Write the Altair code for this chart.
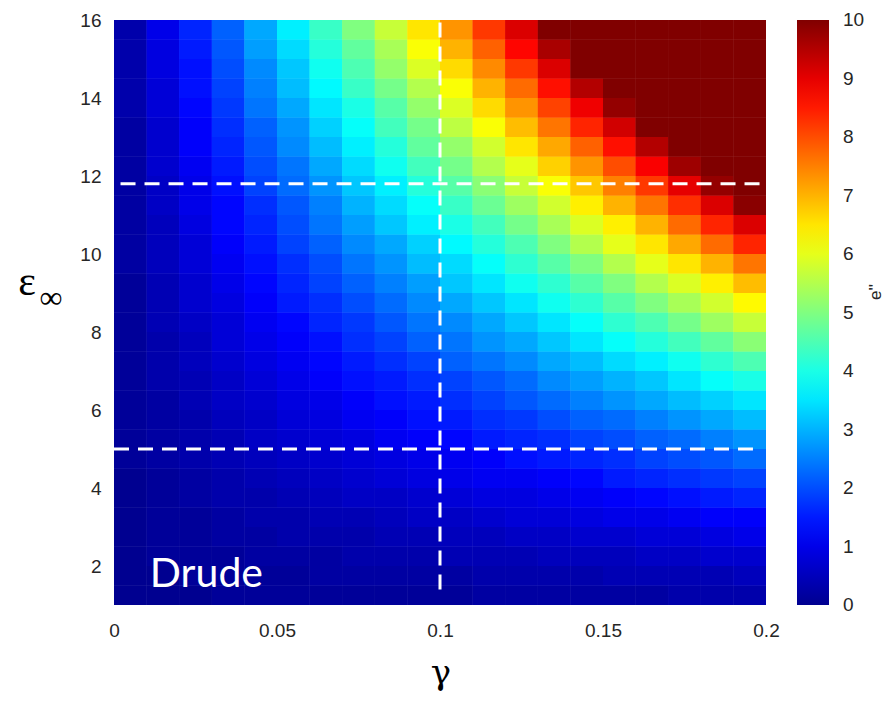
import altair as alt
import pandas as pd

# gamma cell centres (x) and eps_inf cell centres (y)
gamma = [0.005, 0.015, 0.025, 0.035, 0.045, 0.055, 0.065, 0.075, 0.085, 0.095,
         0.105, 0.115, 0.125, 0.135, 0.145, 0.155, 0.165, 0.175, 0.185, 0.195]
eps_inf = [1.25, 1.75, 2.25, 2.75, 3.25, 3.75, 4.25, 4.75, 5.25, 5.75,
           6.25, 6.75, 7.25, 7.75, 8.25, 8.75, 9.25, 9.75, 10.25, 10.75,
           11.25, 11.75, 12.25, 12.75, 13.25, 13.75, 14.25, 14.75, 15.25, 15.75]

# e'', one row per eps_inf (bottom to top), one value per gamma
eps2 = [
    [0.0, 0.0, 0.0, 0.1, 0.1, 0.1, 0.1, 0.1, 0.1, 0.1, 0.1, 0.2, 0.2, 0.2, 0.2, 0.2, 0.2, 0.3, 0.3, 0.3],
    [0.0, 0.0, 0.1, 0.1, 0.1, 0.1, 0.2, 0.2, 0.2, 0.2, 0.2, 0.3, 0.3, 0.3, 0.3, 0.4, 0.4, 0.4, 0.4, 0.5],
    [0.0, 0.1, 0.1, 0.1, 0.2, 0.2, 0.2, 0.3, 0.3, 0.3, 0.4, 0.4, 0.4, 0.5, 0.5, 0.5, 0.6, 0.6, 0.7, 0.7],
    [0.0, 0.1, 0.1, 0.2, 0.2, 0.3, 0.3, 0.3, 0.4, 0.4, 0.5, 0.5, 0.6, 0.6, 0.7, 0.7, 0.8, 0.8, 0.9, 1.0],
    [0.0, 0.1, 0.1, 0.2, 0.3, 0.3, 0.4, 0.4, 0.5, 0.6, 0.6, 0.7, 0.8, 0.8, 0.9, 1.0, 1.0, 1.1, 1.2, 1.2],
    [0.0, 0.1, 0.2, 0.3, 0.3, 0.4, 0.5, 0.6, 0.6, 0.7, 0.8, 0.9, 0.9, 1.0, 1.1, 1.2, 1.3, 1.4, 1.5, 1.6],
    [0.0, 0.1, 0.2, 0.3, 0.4, 0.5, 0.6, 0.7, 0.8, 0.9, 1.0, 1.1, 1.1, 1.2, 1.3, 1.5, 1.6, 1.7, 1.8, 1.9],
    [0.1, 0.2, 0.3, 0.4, 0.5, 0.6, 0.7, 0.8, 0.9, 1.0, 1.1, 1.2, 1.4, 1.5, 1.6, 1.7, 1.9, 2.0, 2.1, 2.3],
    [0.1, 0.2, 0.3, 0.4, 0.6, 0.7, 0.8, 0.9, 1.1, 1.2, 1.3, 1.5, 1.6, 1.7, 1.9, 2.0, 2.2, 2.3, 2.5, 2.7],
    [0.1, 0.2, 0.3, 0.5, 0.6, 0.8, 0.9, 1.1, 1.2, 1.4, 1.5, 1.7, 1.8, 2.0, 2.2, 2.3, 2.5, 2.7, 2.9, 3.1],
    [0.1, 0.2, 0.4, 0.6, 0.7, 0.9, 1.0, 1.2, 1.4, 1.5, 1.7, 1.9, 2.1, 2.3, 2.5, 2.7, 2.9, 3.1, 3.3, 3.5],
    [0.1, 0.3, 0.4, 0.6, 0.8, 1.0, 1.2, 1.4, 1.5, 1.7, 1.9, 2.1, 2.3, 2.6, 2.8, 3.0, 3.2, 3.5, 3.8, 4.0],
    [0.1, 0.3, 0.5, 0.7, 0.9, 1.1, 1.3, 1.5, 1.7, 1.9, 2.2, 2.4, 2.6, 2.9, 3.1, 3.4, 3.6, 3.9, 4.2, 4.5],
    [0.1, 0.3, 0.5, 0.8, 1.0, 1.2, 1.4, 1.7, 1.9, 2.2, 2.4, 2.7, 2.9, 3.2, 3.5, 3.8, 4.1, 4.4, 4.7, 5.1],
    [0.1, 0.4, 0.6, 0.8, 1.1, 1.3, 1.6, 1.8, 2.1, 2.4, 2.6, 2.9, 3.2, 3.5, 3.8, 4.2, 4.5, 4.9, 5.3, 5.7],
    [0.1, 0.4, 0.7, 0.9, 1.2, 1.5, 1.7, 2.0, 2.3, 2.6, 2.9, 3.2, 3.5, 3.9, 4.2, 4.6, 5.0, 5.4, 5.8, 6.3],
    [0.1, 0.4, 0.7, 1.0, 1.3, 1.6, 1.9, 2.2, 2.5, 2.8, 3.2, 3.5, 3.9, 4.2, 4.6, 5.0, 5.5, 5.9, 6.4, 6.9],
    [0.2, 0.5, 0.8, 1.1, 1.4, 1.7, 2.0, 2.4, 2.7, 3.1, 3.4, 3.8, 4.2, 4.6, 5.0, 5.5, 6.0, 6.5, 7.0, 7.6],
    [0.2, 0.5, 0.8, 1.2, 1.5, 1.9, 2.2, 2.6, 2.9, 3.3, 3.7, 4.1, 4.5, 5.0, 5.5, 6.0, 6.5, 7.1, 7.7, 8.4],
    [0.2, 0.5, 0.9, 1.3, 1.6, 2.0, 2.4, 2.8, 3.2, 3.6, 4.0, 4.4, 4.9, 5.4, 5.9, 6.4, 7.0, 7.7, 8.4, 9.1],
    [0.2, 0.6, 1.0, 1.3, 1.7, 2.1, 2.5, 3.0, 3.4, 3.8, 4.3, 4.8, 5.3, 5.8, 6.4, 7.0, 7.6, 8.3, 9.1, 9.9],
    [0.2, 0.6, 1.0, 1.4, 1.9, 2.3, 2.7, 3.2, 3.6, 4.1, 4.6, 5.1, 5.7, 6.2, 6.8, 7.5, 8.2, 9.0, 9.8, 10.0],
    [0.2, 0.7, 1.1, 1.5, 2.0, 2.4, 2.9, 3.4, 3.9, 4.4, 4.9, 5.5, 6.0, 6.7, 7.3, 8.0, 8.8, 9.7, 10.0, 10.0],
    [0.2, 0.7, 1.2, 1.6, 2.1, 2.6, 3.1, 3.6, 4.1, 4.7, 5.2, 5.8, 6.5, 7.1, 7.8, 8.6, 9.5, 10.0, 10.0, 10.0],
    [0.2, 0.7, 1.2, 1.7, 2.2, 2.7, 3.3, 3.8, 4.4, 4.9, 5.6, 6.2, 6.9, 7.6, 8.4, 9.2, 10.0, 10.0, 10.0, 10.0],
    [0.3, 0.8, 1.3, 1.8, 2.4, 2.9, 3.5, 4.0, 4.6, 5.2, 5.9, 6.6, 7.3, 8.1, 8.9, 9.8, 10.0, 10.0, 10.0, 10.0],
    [0.3, 0.8, 1.4, 1.9, 2.5, 3.1, 3.7, 4.3, 4.9, 5.5, 6.2, 7.0, 7.7, 8.6, 9.5, 10.0, 10.0, 10.0, 10.0, 10.0],
    [0.3, 0.9, 1.4, 2.0, 2.6, 3.2, 3.9, 4.5, 5.2, 5.9, 6.6, 7.4, 8.2, 9.1, 10.0, 10.0, 10.0, 10.0, 10.0, 10.0],
    [0.3, 0.9, 1.5, 2.1, 2.8, 3.4, 4.1, 4.7, 5.4, 6.2, 7.0, 7.8, 8.7, 9.6, 10.0, 10.0, 10.0, 10.0, 10.0, 10.0],
    [0.3, 1.0, 1.6, 2.2, 2.9, 3.6, 4.3, 5.0, 5.7, 6.5, 7.3, 8.2, 9.1, 10.0, 10.0, 10.0, 10.0, 10.0, 10.0, 10.0],
]

gamma_step = 0.01
eps_step = 0.5

x_ticks = [0, 0.05, 0.1, 0.15, 0.2]
y_ticks = [2, 4, 6, 8, 10, 12, 14, 16]
cbar_ticks = [0, 1, 2, 3, 4, 5, 6, 7, 8, 9, 10]

# dashed guide lines
vline_gamma = [0.1]
vline_e0 = [1.4]
vline_e1 = [16.0]
hline_eps = [11.8, 5.0]
hline_g0 = [0.002, 0.0]
hline_g1 = [0.2, 0.196]

# jet colormap
jet_stops = [0, 1.25, 3.75, 6.25, 8.75, 10]
jet_colors = ["#000090", "#0000ff", "#00ffff", "#ffff00", "#ff0000", "#800000"]

# layout (pixels)
W, H = 652, 585
CB_X, CB_W = 683, 32

rows = []
for i, e in enumerate(eps_inf):
    for j, g in enumerate(gamma):
        rows.append({
            "g0": g - gamma_step / 2, "g1": g + gamma_step / 2,
            "e0": e - eps_step / 2, "e1": e + eps_step / 2,
            "v": eps2[i][j],
        })
df = pd.DataFrame(rows)

tick_font = "Liberation Sans, Arial"
tick_color = "#262626"

cscale = alt.Scale(domain=jet_stops, range=jet_colors, interpolate="rgb", clamp=True)
xscale = alt.Scale(domain=[0, 0.2], nice=False, zero=False)
yscale = alt.Scale(domain=[1, 16], nice=False, zero=False)

x_enc = alt.X("g0:Q", scale=xscale,
              axis=alt.Axis(values=x_ticks, format=".2~f", title=None, grid=False,
                            domain=False, ticks=False, tickSize=0, labelFlush=False,
                            labelFontSize=19, labelFont=tick_font, labelColor=tick_color,
                            labelPadding=16))
y_enc = alt.Y("e0:Q", scale=yscale,
              axis=alt.Axis(values=y_ticks, format="d", title=None, grid=False,
                            domain=False, ticks=False, tickSize=0, labelFlush=False,
                            labelFontSize=19, labelFont=tick_font, labelColor=tick_color,
                            labelPadding=13))

heat = alt.Chart(df).mark_rect().encode(
    x=x_enc, x2="g1:Q", y=y_enc, y2="e1:Q",
    fill=alt.Fill("v:Q", scale=cscale,
                  legend=alt.Legend(type="gradient", orient="none", legendX=CB_X, legendY=0,
                                    direction="vertical", gradientLength=H,
                                    gradientThickness=CB_W, title=None, labelOpacity=0,
                                    values=cbar_ticks, gradientStrokeWidth=0)),
)
# second identical pass hides anti-aliasing seams between cells
heat2 = alt.Chart(df).mark_rect().encode(
    x=alt.X("g0:Q", scale=xscale), x2="g1:Q",
    y=alt.Y("e0:Q", scale=yscale), y2="e1:Q",
    fill=alt.Fill("v:Q", scale=cscale, legend=None),
)

# colourbar tick labels
cb_df = pd.DataFrame({"v": cbar_ticks})
cb_labels = alt.Chart(cb_df).transform_calculate(
    py=f"(10 - datum.v) / 10 * {H}", lab="format(datum.v, 'd')"
).mark_text(font=tick_font, fontSize=19, color=tick_color, align="left",
            baseline="middle").encode(
    x=alt.value(CB_X + CB_W + 14), y=alt.Y("py:Q", scale=None), text="lab:N")

vdf = pd.DataFrame({"g": vline_gamma, "e0": vline_e0, "e1": vline_e1})
hdf = pd.DataFrame({"e": hline_eps, "g0": hline_g0, "g1": hline_g1})

dash = dict(color="white", strokeWidth=3, strokeDash=[15, 9])
vrule = alt.Chart(vdf).mark_rule(**dash).encode(
    x=alt.X("g:Q", scale=xscale), y=alt.Y("e0:Q", scale=yscale), y2="e1:Q")
hrule = alt.Chart(hdf).mark_rule(**dash).encode(
    y=alt.Y("e:Q", scale=yscale), x=alt.X("g0:Q", scale=xscale), x2="g1:Q")

drude_df = pd.DataFrame({"g": [0.011], "e": [1.45], "t": ["Drude"]})
drude = alt.Chart(drude_df).mark_text(
    color="white", font="Lato", fontSize=41, align="left", baseline="alphabetic"
).encode(x=alt.X("g:Q", scale=xscale), y=alt.Y("e:Q", scale=yscale), text="t:N")

one = pd.DataFrame({"a": [0]})
serif = "DejaVu Serif, Liberation Serif, serif"
t_gamma = alt.Chart(one).mark_text(text="γ", font=serif, fontSize=34, color="black",
                                   align="center", baseline="alphabetic").encode(
    x=alt.value(327), y=alt.value(664))
t_eps = alt.Chart(one).mark_text(text="ε", font="Liberation Serif, serif", fontSize=42,
                                 color="black", align="center", baseline="middle").encode(
    x=alt.value(-87), y=alt.value(262))
t_inf = alt.Chart(one).mark_text(text="∞", font="Liberation Serif, serif", fontSize=32,
                                 color="black", align="center", baseline="middle").encode(
    x=alt.value(-63), y=alt.value(278))
t_cb = alt.Chart(one).mark_text(text="e''", font="Liberation Sans", fontSize=17,
                                color="#262626", angle=270, align="center",
                                baseline="middle").encode(
    x=alt.value(762), y=alt.value(272))

chart = alt.layer(heat, heat2, vrule, hrule, drude, cb_labels,
                  t_gamma, t_eps, t_inf, t_cb).properties(
    width=W, height=H,
    autosize=alt.AutoSizeParams(type="none"),
    padding={"left": 106, "top": 12, "right": 122, "bottom": 88},
    background="white",
).configure_view(stroke=None)

chart.save("out.html", embed_options={"renderer": "svg", "actions": False})
